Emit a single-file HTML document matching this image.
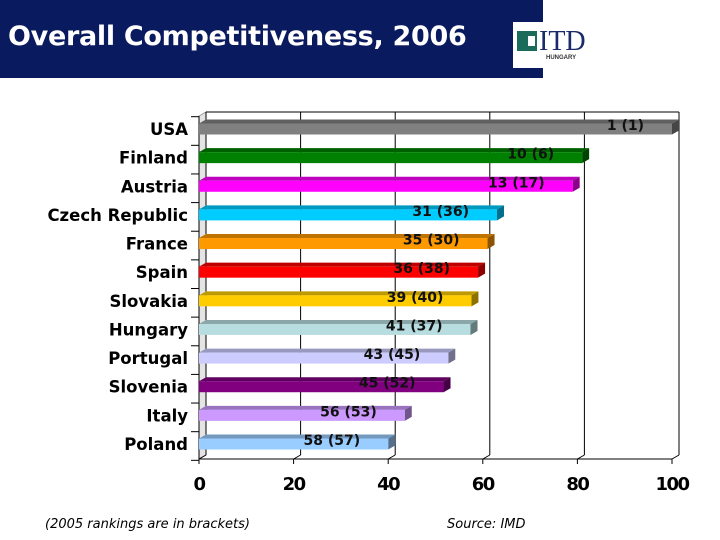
<!DOCTYPE html>
<html><head><meta charset="utf-8"><style>
body{margin:0;width:720px;height:540px;background:#fff;overflow:hidden;position:relative;font-family:"Liberation Sans","DejaVu Sans",sans-serif}
#hdr{position:absolute;left:0;top:0;width:543px;height:78px;background:#0a1a5e}
#title{position:absolute;left:8px;top:21px;color:#fff;font:bold 27px "DejaVu Sans","Liberation Sans",sans-serif;letter-spacing:-0.3px}
#logo{position:absolute;left:513px;top:22px;width:100px;height:46px;background:#fff}
.foot{position:absolute;top:517px;font:italic 13px "DejaVu Sans",sans-serif;color:#000}
</style></head><body>
<div id="hdr"></div>
<div id="title">Overall Competitiveness, 2006</div>
<div id="logo">
<div style="position:absolute;left:4px;top:9px;width:20px;height:20px;background:#1b6b5a"></div>
<div style="position:absolute;left:15px;top:14px;width:7px;height:10px;background:#fff"></div>
<div style="position:absolute;left:26px;top:4px;font:28px 'Liberation Serif',serif;color:#1a2a6a">ITD</div>
<div style="position:absolute;left:33px;top:33px;font:bold 6px 'Liberation Sans',sans-serif;color:#333">HUNGARY</div>
</div>
<svg id="chart" width="720" height="540" style="position:absolute;left:0;top:0"></svg>
<div class="foot" style="left:45px">(2005 rankings are in brackets)</div>
<div class="foot" style="left:447px">Source: IMD</div>
<script>
const categories=["USA","Finland","Austria","Czech Republic","France","Spain","Slovakia","Hungary","Portugal","Slovenia","Italy","Poland"];
const values=[100,81,79,63,61,59,57.6,57.4,52.7,51.7,43.5,40];
const valueLabels=["1 (1)","10 (6)","13 (17)","31 (36)","35 (30)","36 (38)","39 (40)","41 (37)","43 (45)","45 (52)","56 (53)","58 (57)"];
const colors=["#808080","#008000","#ff00ff","#00ccff","#ff9900","#ff0000","#ffcc00","#b8dde0","#ccccff","#800080","#cc99ff","#99ccff"];
const ticks=[0,20,40,60,80,100];
const NS="http://www.w3.org/2000/svg";
const svg=document.getElementById('chart');
const x0=199,x1=672,dx=7,dy=4,top0=112,base=459;
const xs=v=>x0+(v/100)*(x1-x0);
const rowH=(444-129)/(categories.length-1);
const yc=i=>129+rowH*i;
function el(t,a){const e=document.createElementNS(NS,t);for(const k in a)e.setAttribute(k,a[k]);svg.appendChild(e);return e;}
let w=el('polygon',{points:`${x0},${top0+dy} ${x0+dx},${top0} ${x0+dx},${base-dy} ${x0},${base}`,fill:'#e4e4e4',stroke:'#999'});


ticks.forEach(t=>{
 const g=el('line',{x1:xs(t)+dx,y1:top0,x2:xs(t)+dx,y2:base-dy,stroke:'#000','stroke-width':1});
 
 
 el('line',{x1:xs(t),y1:base,x2:xs(t)+dx,y2:base-dy,stroke:'#000'});
 el('line',{x1:xs(t),y1:base,x2:xs(t),y2:base+5,stroke:'#000'});
 const tx=el('text',{x:xs(t),y:base+31,'text-anchor':'middle','font-size':18,'font-weight':'bold','font-family':'DejaVu Sans, sans-serif','letter-spacing':'-1.5'});
 tx.textContent=t;
 
 
});
el('line',{x1:x0+dx,y1:top0,x2:xs(100)+dx,y2:top0,stroke:'#000'});
el('line',{x1:x0,y1:base,x2:x1,y2:base,stroke:'#000'});
el('line',{x1:x0,y1:top0+dy,x2:x0,y2:base,stroke:'#000'});
for(let i=0;i<=categories.length;i++){const ty=yc(i)-rowH/2+2;el('line',{x1:x0-8,y1:ty,x2:x0,y2:ty,stroke:'#000'});}
categories.forEach((c,i)=>{
 const y=yc(i),h=11,bx=x0,ex=xs(values[i]);
 const g=document.createElementNS(NS,'g');svg.appendChild(g);
 
 
 const mk=(t,a)=>{const e=document.createElementNS(NS,t);for(const k in a)e.setAttribute(k,a[k]);g.appendChild(e);return e;};
 mk('polygon',{points:`${bx},${y-h/2} ${bx+dx},${y-h/2-dy} ${ex+dx},${y-h/2-dy} ${ex},${y-h/2}`,fill:colors[i],style:'filter:brightness(0.75)'});
 mk('polygon',{points:`${ex},${y-h/2} ${ex+dx},${y-h/2-dy} ${ex+dx},${y+h/2-dy} ${ex},${y+h/2}`,fill:colors[i],style:'filter:brightness(0.55)'});
 mk('rect',{x:bx,y:y-h/2,width:ex-bx,height:h,fill:colors[i]});
 const vt=el('text',{x:ex-28,y:y+1,'text-anchor':'end','font-size':14,'font-weight':'bold','font-family':'DejaVu Sans, sans-serif',fill:'#111'});
 vt.textContent=valueLabels[i];
 
 
 const lt=el('text',{x:188,y:y+6,'text-anchor':'end','font-size':16.5,'font-weight':'bold','font-family':'DejaVu Sans, sans-serif'});
 lt.textContent=c;
 
 
});
</script>
</body></html>
